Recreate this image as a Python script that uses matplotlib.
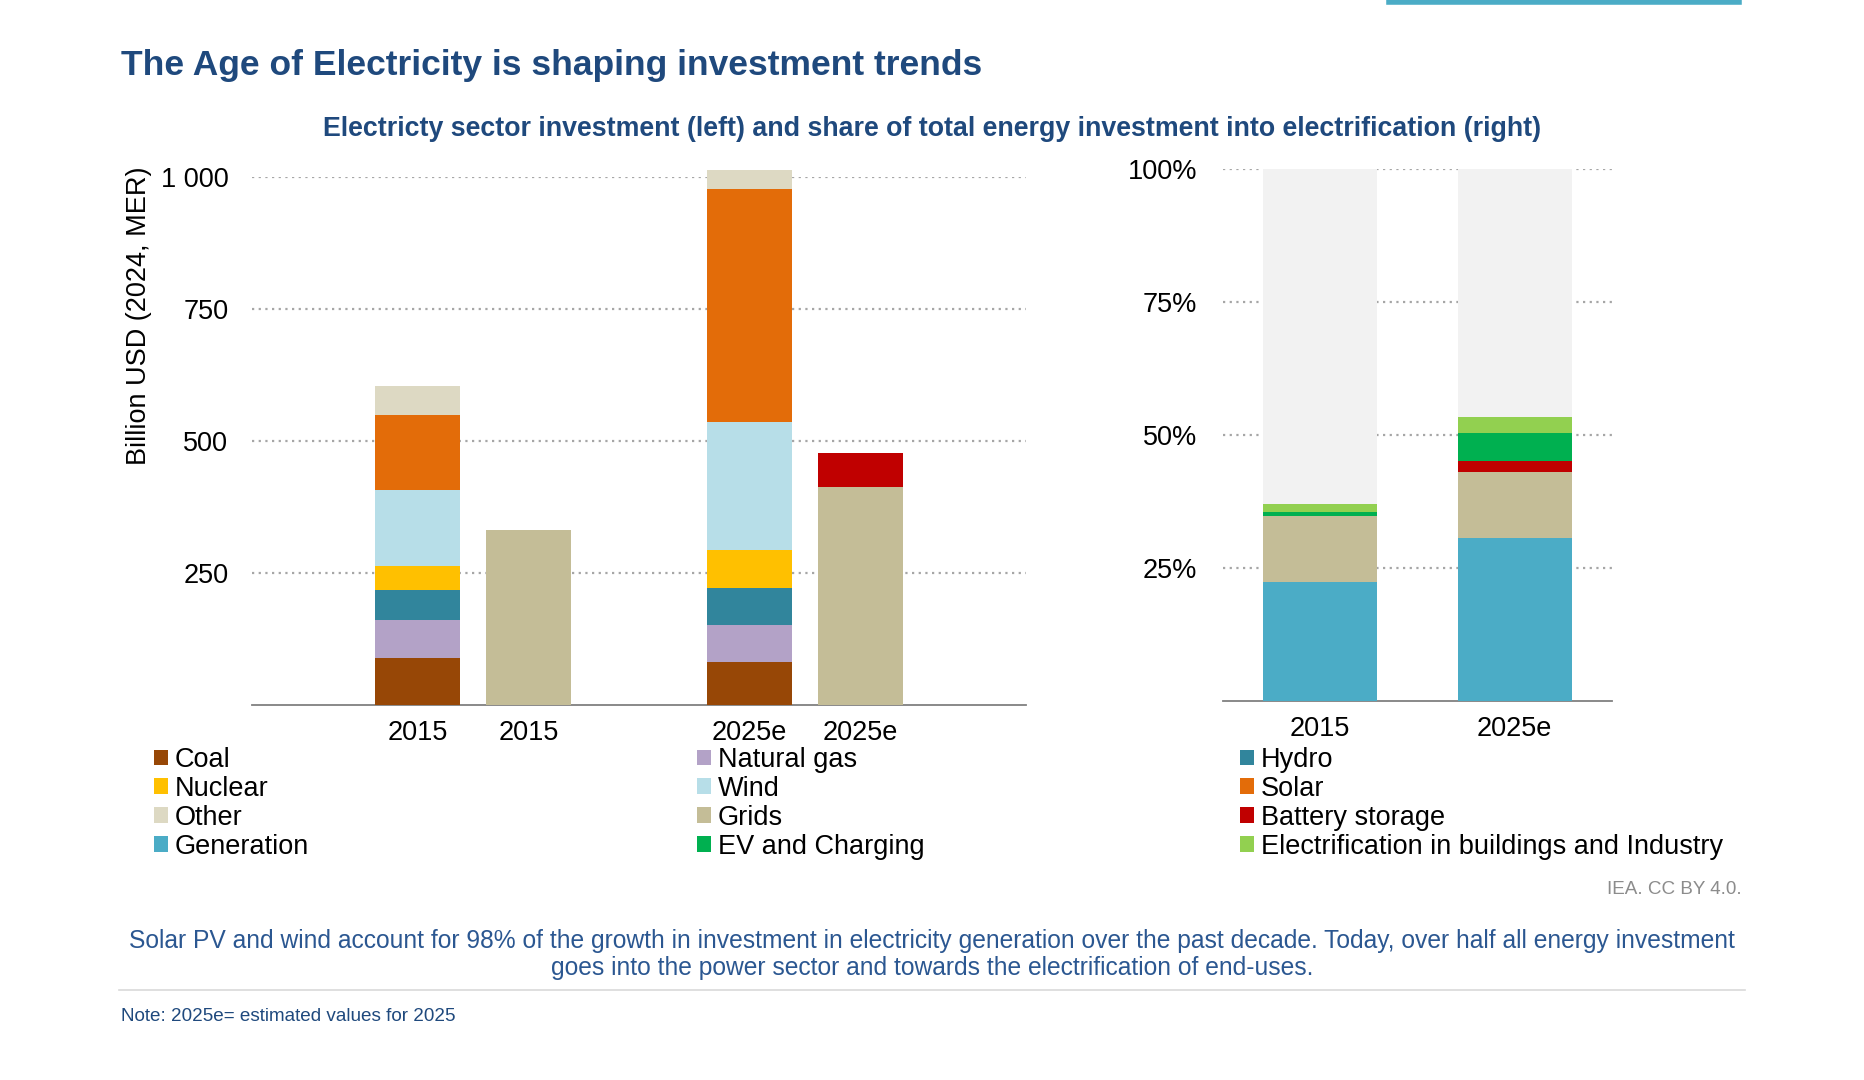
import numpy as np
import matplotlib
matplotlib.use('Agg')
import matplotlib.pyplot as plt
from matplotlib.patches import Patch

plt.rcParams['font.family'] = ['Liberation Sans', 'DejaVu Sans']

# left chart: electricity sector investment, billion USD
left_labels = ['2015', '2015', '2025e', '2025e']
gen_pos = [0, 3]
grid_pos = [1, 4]
coal = [90, 81]
natural_gas = [71, 71]
hydro = [57, 69]
nuclear = [46, 73]
wind = [143, 242]
solar = [142, 442]
other = [56, 36]
grids = [331, 412]
battery = [1, 66]

# right chart: share of total energy investment, %
right_labels = ['2015', '2025e']
sh_generation = [22.4, 30.6]
sh_grids = [12.3, 12.5]
sh_battery = [0.0, 2.0]
sh_ev = [0.9, 5.2]
sh_elec = [1.4, 3.0]

colors = {
    'Coal': '#974706', 'Natural gas': '#B3A2C7', 'Hydro': '#31859C',
    'Nuclear': '#FFC000', 'Wind': '#B7DEE8', 'Solar': '#E36C09',
    'Other': '#DDD9C3', 'Grids': '#C4BD97', 'Battery storage': '#C00000',
    'Generation': '#4BACC6', 'EV and Charging': '#00B050',
    'Electrification in buildings and Industry': '#92D050',
}
rest_color = '#F2F2F2'
grid_col = '#A6A6A6'
navy = '#1F497D'
fs = 19.5

fig = plt.figure(figsize=(18.64, 10.8), dpi=100)

# ---- left axes
ax = fig.add_axes([0.1352, 0.3472, 0.4152, 0.4889])
bw = 0.77
bottom = np.zeros(2)
for name, vals in [('Coal', coal), ('Natural gas', natural_gas), ('Hydro', hydro),
                   ('Nuclear', nuclear), ('Wind', wind), ('Solar', solar), ('Other', other)]:
    ax.bar(gen_pos, vals, bw, bottom=bottom, color=colors[name], clip_on=False, zorder=3)
    bottom += np.array(vals)
bottom = np.zeros(2)
for name, vals in [('Grids', grids), ('Battery storage', battery)]:
    ax.bar(grid_pos, vals, bw, bottom=bottom, color=colors[name], clip_on=False, zorder=3)
    bottom += np.array(vals)

ax.set_xlim(-1.5, 5.5)
ax.set_ylim(0, 1000)
ax.set_yticks([250, 500, 750, 1000])
ax.set_yticklabels(['250', '500', '750', '1 000'])
ax.set_xticks(gen_pos + grid_pos)
ax.set_xticklabels([left_labels[0], left_labels[2], left_labels[1], left_labels[3]])
ax.yaxis.grid(True, linestyle=(0, (1, 2)), color=grid_col, linewidth=1.6, zorder=0)
ax.set_axisbelow(True)

# ---- right axes
ax2 = fig.add_axes([0.6561, 0.3509, 0.2087, 0.4926])
x2 = np.arange(len(right_labels))
bw2 = 0.585
bottom = np.zeros(2)
for name, vals in [('Generation', sh_generation), ('Grids', sh_grids),
                   ('Battery storage', sh_battery), ('EV and Charging', sh_ev),
                   ('Electrification in buildings and Industry', sh_elec)]:
    ax2.bar(x2, vals, bw2, bottom=bottom, color=colors[name], zorder=3)
    bottom += np.array(vals)
ax2.bar(x2, 100 - bottom, bw2, bottom=bottom, color=rest_color, zorder=3)
ax2.set_xlim(-0.5, 1.5)
ax2.set_ylim(0, 100)
ax2.set_yticks([25, 50, 75, 100])
ax2.set_yticklabels(['25%', '50%', '75%', '100%'])
ax2.set_xticks(x2)
ax2.set_xticklabels(right_labels)
ax2.yaxis.grid(True, linestyle=(0, (1, 2)), color=grid_col, linewidth=1.6, zorder=0)
ax2.set_axisbelow(True)

for a, ypad in ((ax, 17), (ax2, 18.5)):
    for s in ('top', 'right', 'left'):
        a.spines[s].set_visible(False)
    a.spines['bottom'].set_color('#808080')
    a.spines['bottom'].set_linewidth(1.3)
    a.tick_params(length=0, labelsize=fs, colors='black')
    a.tick_params(axis='y', pad=ypad)
    a.tick_params(axis='x', pad=11)

fig.text(0.0746, 0.708, 'Billion USD (2024, MER)', rotation=90, fontsize=fs,
         ha='center', va='center')

# ---- legends (three columns)
cols = [['Coal', 'Nuclear', 'Other', 'Generation'],
        ['Natural gas', 'Wind', 'Grids', 'EV and Charging'],
        ['Hydro', 'Solar', 'Battery storage', 'Electrification in buildings and Industry']]
col_x = [154 / 1864, 697 / 1864, 1240 / 1864]
for names, lx in zip(cols, col_x):
    handles = [Patch(facecolor=colors[n], label=n) for n in names]
    fig.legend(handles=handles, loc='upper left', bbox_to_anchor=(lx, 1 - 747 / 1080),
               frameon=False, fontsize=fs, handlelength=0.52, handleheight=0.52,
               handletextpad=0.24, labelspacing=0.11, borderpad=0, borderaxespad=0)

# ---- texts
fig.text(0.065, 0.9398, 'The Age of Electricity is shaping investment trends',
         fontsize=25.5, fontweight='bold', color=navy, ha='left', va='center')
fig.text(0.5, 0.881, 'Electricty sector investment (left) and share of total energy '
         'investment into electrification (right)', fontsize=19.3, fontweight='bold',
         color=navy, ha='center', va='center')
fig.text(0.9345, 0.176, 'IEA. CC BY 4.0.', fontsize=13.6, color='#8C8C8C',
         ha='right', va='center')
fig.text(0.5, 0.129, 'Solar PV and wind account for 98% of the growth in investment in '
         'electricity generation over the past decade. Today, over half all energy investment',
         fontsize=17.7, color='#2B5791', ha='center', va='center')
fig.text(0.5, 0.1035, 'goes into the power sector and towards the electrification of end-uses.',
         fontsize=17.7, color='#2B5791', ha='center', va='center')
fig.add_artist(plt.Line2D([0.064, 0.936], [0.0835, 0.0835], color='#D9D9D9', linewidth=1.2))
fig.text(0.065, 0.0585, 'Note: 2025e= estimated values for 2025', fontsize=13.6,
         color=navy, ha='left', va='center')
fig.add_artist(plt.Line2D([0.7452, 0.9329], [0.9985, 0.9985], color='#4BACC6', linewidth=4))

fig.savefig('out.png', dpi=100)
